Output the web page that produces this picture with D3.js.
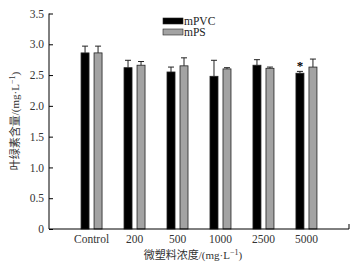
<!DOCTYPE html>
<html>
<head>
<meta charset="utf-8">
<script src="https://cdn.jsdelivr.net/npm/d3@7"></script>
<style>
    body { margin: 0; background: #fff; }
    text { font-family: "Liberation Serif", "Times New Roman", serif; }
    .cjk { font-family: "Noto Sans CJK SC", sans-serif; }
</style>
</head>
<body>
<div id="main"></div>
<script>
const ctx = {
    w: 356,
    h: 267,
    left: 49,
    right: 349,
    top: 13.5,
    bottom: 229,
    BLACK: "#000000",
    GREY: "#a3a3a3",
};

// categories and series
const CONCENTRATIONS = ["Control", "200", "500", "1000", "2500", "5000"];
const SERIES = ["mPVC", "mPS"];
const MPVC_VALUES = [2.86, 2.62, 2.55, 2.48, 2.66, 2.53];
const MPVC_ERRORS = [0.11, 0.12, 0.08, 0.26, 0.09, 0.03];
const MPS_VALUES = [2.86, 2.66, 2.65, 2.60, 2.61, 2.63];
const MPS_ERRORS = [0.11, 0.06, 0.13, 0.02, 0.02, 0.13];
const SIGNIFICANT = [[5, "mPVC"]];
const Y_TICKS = [0, 0.5, 1.0, 1.5, 2.0, 2.5, 3.0, 3.5];

function buildRows() {
    let rows = [];
    CONCENTRATIONS.forEach(function (c, i) {
        rows.push({ cat: c, series: "mPVC", value: MPVC_VALUES[i], err: MPVC_ERRORS[i] });
        rows.push({ cat: c, series: "mPS", value: MPS_VALUES[i], err: MPS_ERRORS[i] });
    });
    return rows;
}

function createViz() {
    let svgEl = d3.select("#main").append("svg")
        .attr("width", ctx.w)
        .attr("height", ctx.h);

    let x = d3.scaleBand()
        .domain(CONCENTRATIONS)
        .range([ctx.left, ctx.right])
        .paddingInner(0)
        .paddingOuter(0.49);
    let xSub = d3.scaleBand()
        .domain(SERIES)
        .range([0, 21])
        .paddingInner(0.385);
    let y = d3.scaleLinear()
        .domain([0, 3.5])
        .range([ctx.bottom, ctx.top]);
    let color = d3.scaleOrdinal().domain(SERIES).range([ctx.BLACK, ctx.GREY]);

    let rows = buildRows();
    let offset = (x.bandwidth() - 21) / 2;

    // bars
    svgEl.append("g").selectAll("rect")
        .data(rows)
        .enter()
        .append("rect")
        .attr("x", (d) => x(d.cat) + offset + xSub(d.series))
        .attr("y", (d) => y(d.value))
        .attr("width", xSub.bandwidth())
        .attr("height", (d) => y(0) - y(d.value))
        .attr("fill", (d) => color(d.series))
        .attr("stroke", "#222")
        .attr("stroke-width", 0.8);

    // error bars (upper only)
    let errG = svgEl.append("g").attr("stroke", "#222").attr("stroke-width", 1);
    rows.forEach(function (d) {
        let cx = x(d.cat) + offset + xSub(d.series) + xSub.bandwidth() / 2;
        errG.append("line")
            .attr("x1", cx).attr("x2", cx)
            .attr("y1", y(d.value)).attr("y2", y(d.value + d.err));
        errG.append("line")
            .attr("x1", cx - 3).attr("x2", cx + 3)
            .attr("y1", y(d.value + d.err)).attr("y2", y(d.value + d.err));
    });

    // significance marks
    SIGNIFICANT.forEach(function (s) {
        let cat = CONCENTRATIONS[s[0]];
        let row = rows.find((r) => r.cat == cat && r.series == s[1]);
        svgEl.append("text")
            .attr("x", x(cat) + offset + xSub(s[1]) + xSub.bandwidth() / 2)
            .attr("y", y(row.value + row.err) - 1)
            .attr("text-anchor", "middle")
            .attr("font-size", 13)
            .attr("font-weight", "bold")
            .attr("fill", "#000")
            .text("*");
    });

    // y axis (ticks point inward)
    let yAxis = svgEl.append("g")
        .attr("transform", `translate(${ctx.left},0)`)
        .call(d3.axisRight(y).tickValues(Y_TICKS).tickSize(4)
            .tickFormat((d) => d == 0 ? "0" : d3.format(".1f")(d)));
    yAxis.select(".domain").attr("d", `M0,${ctx.top}V${ctx.bottom}`).attr("stroke", "#000");
    yAxis.selectAll(".tick text")
        .attr("x", -5)
        .attr("text-anchor", "end")
        .attr("font-size", 11.5)
        .attr("font-family", "Liberation Serif, serif")
        .attr("fill", "#333");

    // x axis
    let xAxis = svgEl.append("g")
        .attr("transform", `translate(0,${ctx.bottom})`)
        .call(d3.axisBottom(x).tickSize(0).tickPadding(6));
    xAxis.select(".domain").attr("d", `M${ctx.left},0H${ctx.right}V-5`).attr("stroke", "#000");
    xAxis.selectAll(".tick text")
        .attr("font-size", 11.5)
        .attr("font-family", "Liberation Serif, serif")
        .attr("fill", "#333");

    // axis titles
    let xTitle = svgEl.append("text")
        .attr("x", 193)
        .attr("y", 259)
        .attr("text-anchor", "middle")
        .attr("font-size", 11)
        .attr("fill", "#333");
    xTitle.append("tspan").attr("class", "cjk").text("微塑料浓度");
    xTitle.append("tspan").text("/(mg·L");
    xTitle.append("tspan").attr("dy", -4).attr("font-size", 8).text("−1");
    xTitle.append("tspan").attr("dy", 4).text(")");

    let yTitle = svgEl.append("text")
        .attr("transform", "translate(19,121) rotate(-90)")
        .attr("text-anchor", "middle")
        .attr("font-size", 11)
        .attr("fill", "#333");
    yTitle.append("tspan").attr("class", "cjk").text("叶绿素含量");
    yTitle.append("tspan").text("/(mg·L");
    yTitle.append("tspan").attr("dy", -4).attr("font-size", 8).text("−1");
    yTitle.append("tspan").attr("dy", 4).text(")");

    // legend
    let legendG = svgEl.append("g").attr("transform", "translate(163,18)");
    SERIES.forEach(function (s, i) {
        legendG.append("rect")
            .attr("x", 0)
            .attr("y", i * 11)
            .attr("width", 20)
            .attr("height", 6)
            .attr("fill", color(s))
            .attr("stroke", "#222")
            .attr("stroke-width", 0.6);
        legendG.append("text")
            .attr("x", 21)
            .attr("y", i * 11 + 6.5)
            .attr("font-size", 11.5)
            .attr("fill", "#222")
            .text(s);
    });
}

createViz();
</script>
</body>
</html>
